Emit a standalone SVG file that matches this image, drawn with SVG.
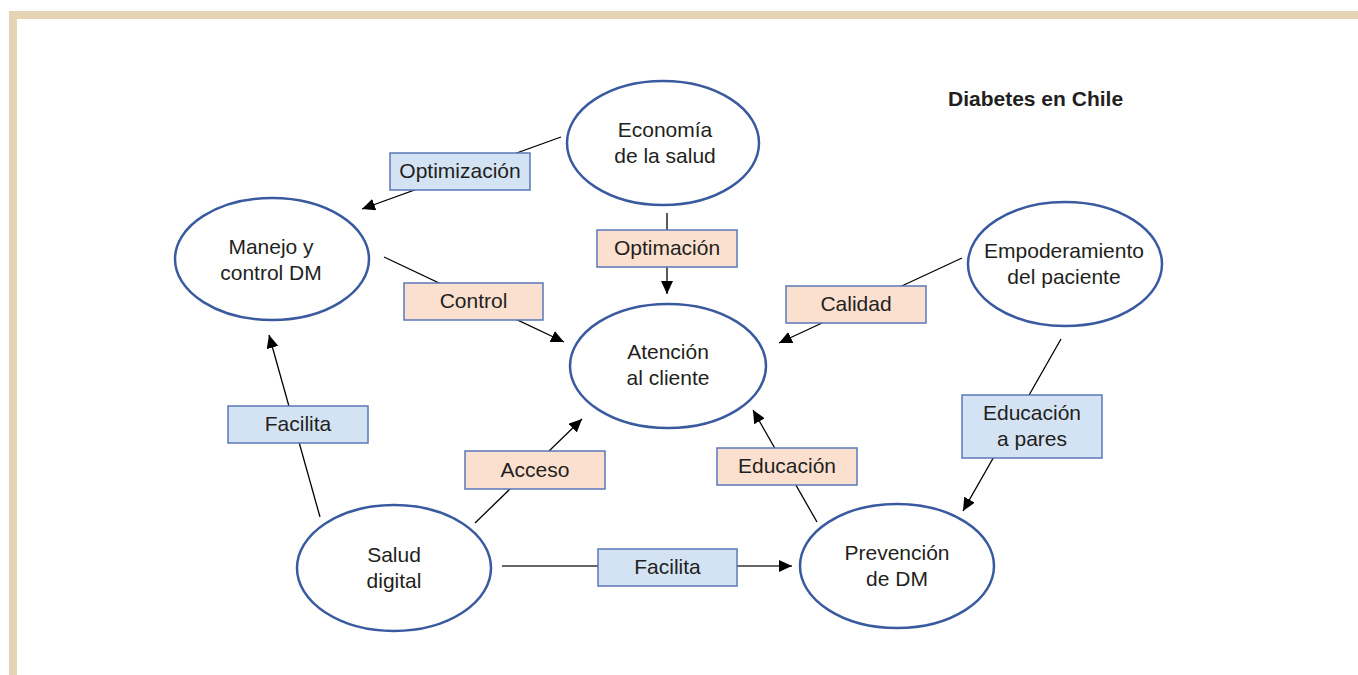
<svg xmlns="http://www.w3.org/2000/svg" width="1358" height="675" viewBox="0 0 1358 675">
<defs>
<style>
.frame{fill:#e4d4b4}
.node ellipse{fill:#ffffff;stroke:#3a5a9f;stroke-width:2.5}
.t{font-family:"Liberation Sans",Arial,sans-serif;font-size:21px;fill:#231f20;text-anchor:middle}
.title{font-family:"Liberation Sans",Arial,sans-serif;font-size:21px;font-weight:bold;fill:#231f20}
.blue{fill:#d4e3f3;stroke:#5a78b8;stroke-width:1.5}
.peach{fill:#fbe0d0;stroke:#5a78b8;stroke-width:1.5}
.conn line{stroke:#000;stroke-width:1.3;marker-end:url(#ah)}
.conn line.plain{marker-end:none}
</style>
<marker id="ah" markerUnits="userSpaceOnUse" markerWidth="14" markerHeight="12" refX="13" refY="6" orient="auto">
<path d="M0,0 L13,6 L0,12 z" fill="#000"/>
</marker>
</defs>
<rect width="1358" height="675" fill="#ffffff"/>
<rect class="frame" x="9" y="11" width="1349" height="8"/>
<rect class="frame" x="9" y="11" width="8" height="664"/>
<text class="title" x="948" y="106">Diabetes en Chile</text>
<g id="connectors" class="conn">
<line x1="561" y1="137" x2="362" y2="209"/>
<line x1="667" y1="213" x2="667" y2="294"/>
<line x1="384" y1="257" x2="564" y2="342"/>
<line x1="962" y1="258" x2="779" y2="343"/>
<line x1="1061" y1="339" x2="963" y2="511"/>
<line x1="817" y1="522" x2="753" y2="410"/>
<line x1="320" y1="517" x2="269" y2="335"/>
<line x1="475" y1="523" x2="582" y2="419"/>
<line x1="502" y1="566" x2="792" y2="566" style="stroke:#333;stroke-width:1.7"/>
</g>
<g id="labels">
<g id="lbl-optimizacion"><rect class="blue" x="390" y="153" width="140" height="37"/><text class="t" x="460" y="178">Optimización</text></g>
<g id="lbl-optimacion"><rect class="peach" x="597" y="230" width="140" height="37"/><text class="t" x="667" y="255">Optimación</text></g>
<g id="lbl-control"><rect class="peach" x="404" y="283" width="139" height="37"/><text class="t" x="473.5" y="308">Control</text></g>
<g id="lbl-calidad"><rect class="peach" x="786" y="286" width="140" height="37"/><text class="t" x="856" y="311">Calidad</text></g>
<g id="lbl-facilita1"><rect class="blue" x="228" y="406" width="140" height="37"/><text class="t" x="298" y="431">Facilita</text></g>
<g id="lbl-acceso"><rect class="peach" x="465" y="451" width="140" height="38"/><text class="t" x="535" y="477">Acceso</text></g>
<g id="lbl-facilita2"><rect class="blue" x="598" y="549" width="139" height="37"/><text class="t" x="667.5" y="574">Facilita</text></g>
<g id="lbl-educacion"><rect class="peach" x="717" y="448" width="140" height="37"/><text class="t" x="787" y="473">Educación</text></g>
<g id="lbl-educacion-pares"><rect class="blue" x="962" y="395" width="140" height="63"/><text class="t" x="1032" y="420">Educación</text><text class="t" x="1032" y="446">a pares</text></g>
</g>
<g id="economia" class="node"><ellipse cx="663" cy="143" rx="96" ry="62"/><text class="t" x="665" y="137">Economía</text><text class="t" x="665" y="163">de la salud</text></g>
<g id="manejo" class="node"><ellipse cx="272" cy="259" rx="97" ry="61"/><text class="t" x="271" y="254">Manejo y</text><text class="t" x="271" y="280">control DM</text></g>
<g id="atencion" class="node"><ellipse cx="668" cy="366" rx="98" ry="62"/><text class="t" x="668" y="359">Atención</text><text class="t" x="668" y="385">al cliente</text></g>
<g id="empoderamiento" class="node"><ellipse cx="1065" cy="264" rx="97" ry="62"/><text class="t" x="1064" y="258">Empoderamiento</text><text class="t" x="1064" y="284">del paciente</text></g>
<g id="salud" class="node"><ellipse cx="394" cy="568" rx="97" ry="63"/><text class="t" x="394" y="562">Salud</text><text class="t" x="394" y="588">digital</text></g>
<g id="prevencion" class="node"><ellipse cx="897" cy="566" rx="97" ry="62"/><text class="t" x="897" y="560">Prevención</text><text class="t" x="897" y="586">de DM</text></g>
</svg>
